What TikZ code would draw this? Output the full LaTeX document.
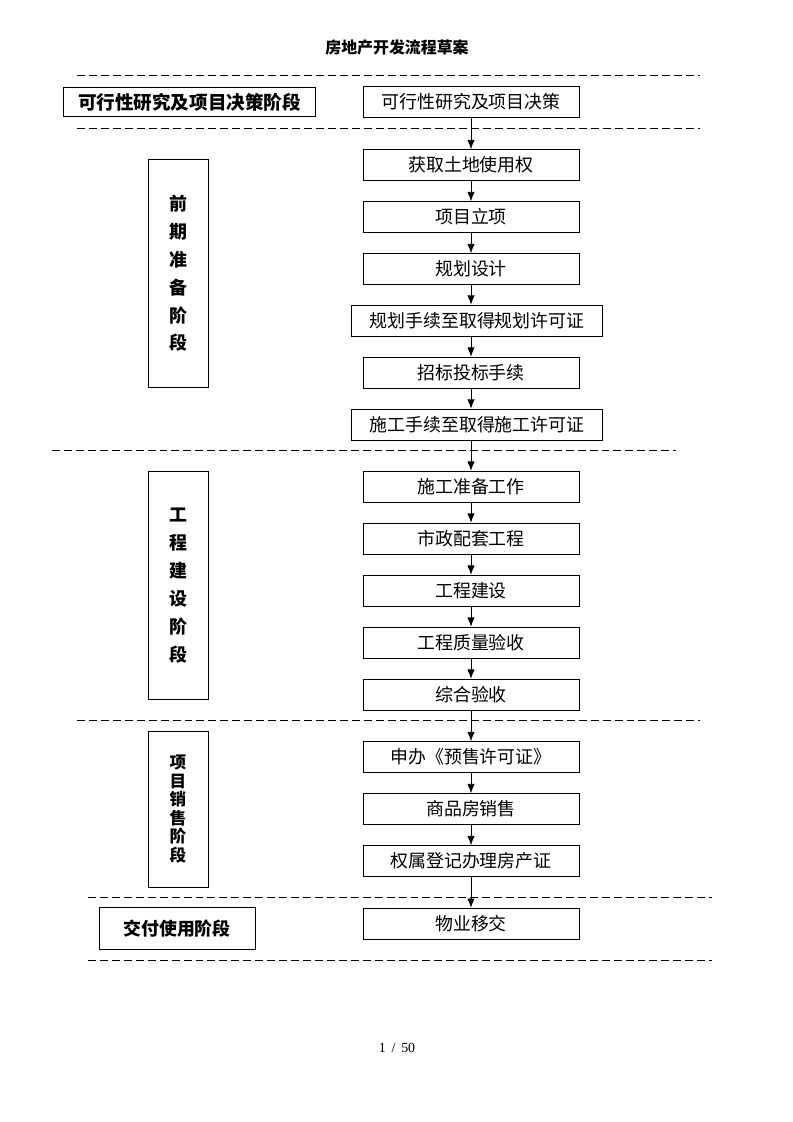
\documentclass[tikz,border=0pt]{standalone}
\usepackage{fontspec}
\usetikzlibrary{arrows.meta}
\setmainfont{Liberation Serif}
\newfontfamily\cjk{Noto Sans CJK SC}

\begin{document}
\begin{tikzpicture}[x=0.2648mm, y=-0.2648mm, >={Latex[length=2.4mm,width=1.9mm]},
        flowbox/.style={rectangle, draw=black, line width=0.7pt, minimum width=57.2mm, minimum height=8.2mm, inner sep=0pt, font=\cjk\fontsize{13.5}{16}\selectfont},
        widebox/.style={flowbox, minimum width=66.7mm},
        stagebox/.style={rectangle, draw=black, line width=0.7pt, inner sep=0pt, align=center, font=\cjk\bfseries\fontsize{13.5}{21}\selectfont},
        sepline/.style={line width=0.75pt, dash pattern=on 6pt off 3pt}]

        \useasboundingbox (0,0) rectangle (793,1122);

        \node[font=\cjk\bfseries\fontsize{12}{14}\selectfont] (title) at (397,47) {房地产开发流程草案};

        % phase separators
        \draw[sepline] (77,75) -- (700,75);
        \draw[sepline] (77,128) -- (700,128);
        \draw[sepline] (52,450) -- (676,450);
        \draw[sepline] (77,720) -- (700,720);
        \draw[sepline] (88,897) -- (712,897);
        \draw[sepline] (88,960) -- (712,960);

        % stages
        \node[stagebox, minimum width=66.5mm, minimum height=7.9mm, font=\cjk\bfseries\fontsize{14}{16}\selectfont] (s1) at (189.5,102) {可行性研究及项目决策阶段};
        \node[stagebox, minimum width=15.9mm, minimum height=60.6mm] (s2) at (178,273.5) {前\\期\\准\\备\\阶\\段};
        \node[stagebox, minimum width=15.9mm, minimum height=60.6mm] (s3) at (178,585.5) {工\\程\\建\\设\\阶\\段};
        \node[stagebox, minimum width=15.9mm, minimum height=41.3mm, font=\cjk\bfseries\fontsize{12.5}{14}\selectfont] (s4) at (178,809) {项\\目\\销\\售\\阶\\段};
        \node[stagebox, minimum width=41.3mm, minimum height=10.9mm, font=\cjk\bfseries\fontsize{13.5}{16}\selectfont] (s5) at (177,928.5) {交付使用阶段};

        % steps
        \node[flowbox] (b1) at (471,102) {可行性研究及项目决策};
        \node[flowbox] (b2) at (471,165) {获取土地使用权};
        \node[flowbox] (b3) at (471,217) {项目立项};
        \node[flowbox] (b4) at (471,269) {规划设计};
        \node[widebox] (b5) at (477,320.5) {规划手续至取得规划许可证};
        \node[flowbox] (b6) at (471,372.5) {招标投标手续};
        \node[widebox] (b7) at (477,424.5) {施工手续至取得施工许可证};
        \node[flowbox] (b8) at (471,486.5) {施工准备工作};
        \node[flowbox] (b9) at (471,538.5) {市政配套工程};
        \node[flowbox] (b10) at (471,590.5) {工程建设};
        \node[flowbox] (b11) at (471,642.5) {工程质量验收};
        \node[flowbox] (b12) at (471,694.5) {综合验收};
        \node[flowbox] (b13) at (471,757) {申办《预售许可证》};
        \node[flowbox] (b14) at (471,809) {商品房销售};
        \node[flowbox] (b15) at (471,861) {权属登记办理房产证};
        \node[flowbox] (b16) at (471,923.5) {物业移交};

        \draw[->] (b1) -- (b2);
        \draw[->] (b2) -- (b3);
        \draw[->] (b3) -- (b4);
        \draw[->] (b4.south) -- (b4.south |- b5.north);
        \draw[->] (b5.south -| b6) -- (b6);
        \draw[->] (b6.south) -- (b6.south |- b7.north);
        \draw[->] (b7.south -| b8) -- (b8);
        \draw[->] (b8) -- (b9);
        \draw[->] (b9) -- (b10);
        \draw[->] (b10) -- (b11);
        \draw[->] (b11) -- (b12);
        \draw[->] (b12) -- (b13);
        \draw[->] (b13) -- (b14);
        \draw[->] (b14) -- (b15);
        \draw[->] (b15) -- (b16);

        \node[font=\fontsize{10.5}{12}\selectfont] (page) at (397,1048) {1 \,/\, 50};

    \end{tikzpicture}
\end{document}
